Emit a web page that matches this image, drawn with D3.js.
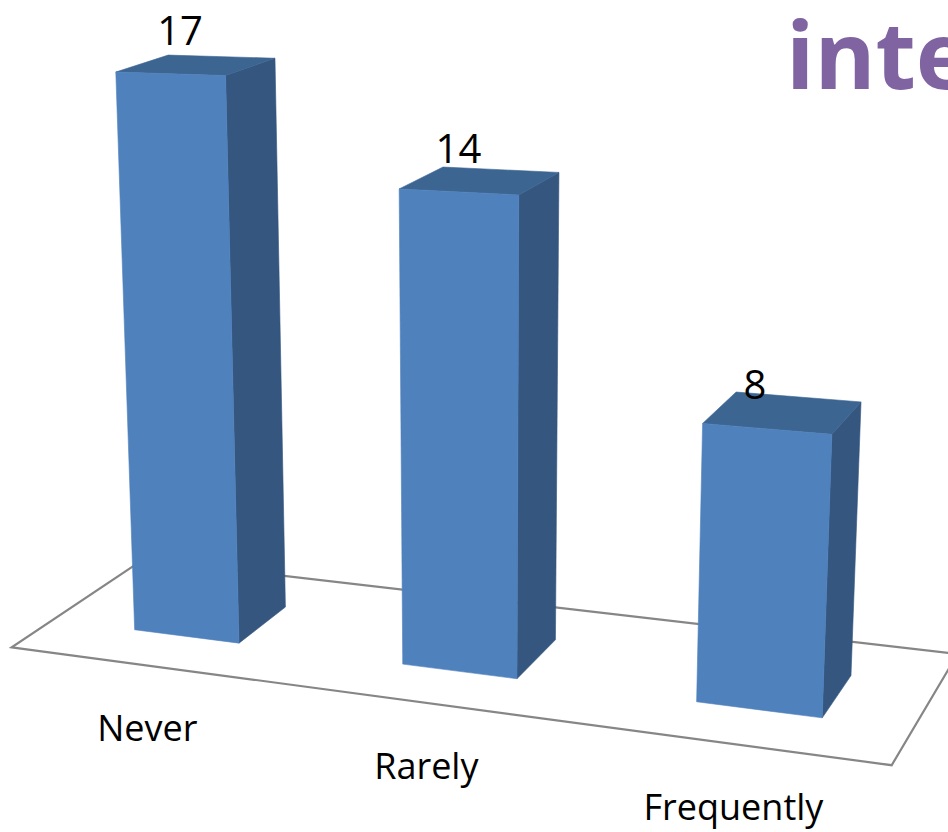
<!DOCTYPE html>
<html>
<head>
<meta charset="utf-8">
<script src="https://cdn.jsdelivr.net/npm/d3@7"></script>
<style>
  body { margin: 0; background: #fff; overflow: hidden; }
  text { font-family: "Open Sans", sans-serif; }
</style>
</head>
<body>
<div id="wrapper"></div>
<script>
// 1. Data
const categories = ["Never", "Rarely", "Frequently"]
const counts = [17, 14, 8]
const titleText = "inte"

// 2. Dimensions
const dimensions = { width: 948, height: 832 }

// 3D camera: origin + per-axis homogeneous columns (floor front-left corner is origin)
const cam = {
  o: [11.7, 647.3],
  x: [760.95, 15.75, -0.1335],
  y: [-29.65, -669.2, -0.06188],
  z: [144.37, -36.66, 0.0912],
}
function project(x, y, z) {
  const d = 1 + x * cam.x[2] + y * cam.y[2] + z * cam.z[2]
  return [
    (cam.o[0] + x * cam.x[0] + y * cam.y[0] + z * cam.z[0]) / d,
    (cam.o[1] + x * cam.x[1] + y * cam.y[1] + z * cam.z[1]) / d,
  ]
}

// 3. Canvas
const svg = d3
  .select("#wrapper")
  .append("svg")
  .attr("width", dimensions.width)
  .attr("height", dimensions.height)

// 4. Scales (world units)
const xScale = d3
  .scaleBand()
  .domain(categories)
  .range([0.007, 1.007])
  .paddingInner(0.6)
  .paddingOuter(0.3)
const yScale = d3.scaleLinear().domain([0, 20]).range([0, 1])
const zBar = [0.3, 0.69]

// floor
const floor = [[0, 0, 0], [1, 0, 0], [1, 0, 1], [0, 0, 1]].map(p => project(...p))
svg
  .append("polygon")
  .attr("points", floor.map(p => p.join(",")).join(" "))
  .attr("fill", "#fff")
  .attr("stroke", "#868686")
  .attr("stroke-width", 2.2)

// 5. Bars
const bars = categories.map((c, i) => {
  const x0 = xScale(c)
  const x1 = x0 + xScale.bandwidth()
  const h = yScale(counts[i])
  const [z0, z1] = zBar
  return {
    name: c,
    value: counts[i],
    front: [[x0, 0, z0], [x1, 0, z0], [x1, h, z0], [x0, h, z0]],
    side: [[x1, 0, z0], [x1, 0, z1], [x1, h, z1], [x1, h, z0]],
    top: [[x0, h, z0], [x1, h, z0], [x1, h, z1], [x0, h, z1]],
    labelAt: project(x0 + 0.5 * xScale.bandwidth() - 0.012 * (i - 1), h, z0),
    catAt: project((x0 + x1) / 2, 0, 0),
  }
})

const faceColors = { side: "#34567f", top: "#3d6592", front: "#4f81bd" }
const barGroups = svg.selectAll(".bar").data(bars).enter().append("g").attr("class", "bar")
;["side", "top", "front"].forEach(face => {
  barGroups
    .append("polygon")
    .attr("points", d => d[face].map(p => project(...p).join(",")).join(" "))
    .attr("fill", faceColors[face])
    .attr("stroke", faceColors[face])
    .attr("stroke-width", 0.6)
})

// 6. Labels
svg
  .selectAll(".value-label")
  .data(bars)
  .enter()
  .append("text")
  .attr("x", d => d.labelAt[0])
  .attr("y", d => d.labelAt[1] - 29)
  .attr("text-anchor", "middle")
  .attr("font-size", 40)
  .attr("fill", "#000")
  .text(d => d.value)

svg
  .selectAll(".cat-label")
  .data(bars)
  .enter()
  .append("text")
  .attr("x", d => d.catAt[0])
  .attr("y", d => d.catAt[1] + 76)
  .attr("text-anchor", "middle")
  .attr("font-size", 36)
  .attr("fill", "#000")
  .text(d => d.name)

svg
  .append("text")
  .attr("x", 786)
  .attr("y", 89)
  .attr("font-size", 93)
  .attr("font-weight", 700)
  .attr("fill", "#8064a2")
  .text(titleText)
</script>
</body>
</html>
